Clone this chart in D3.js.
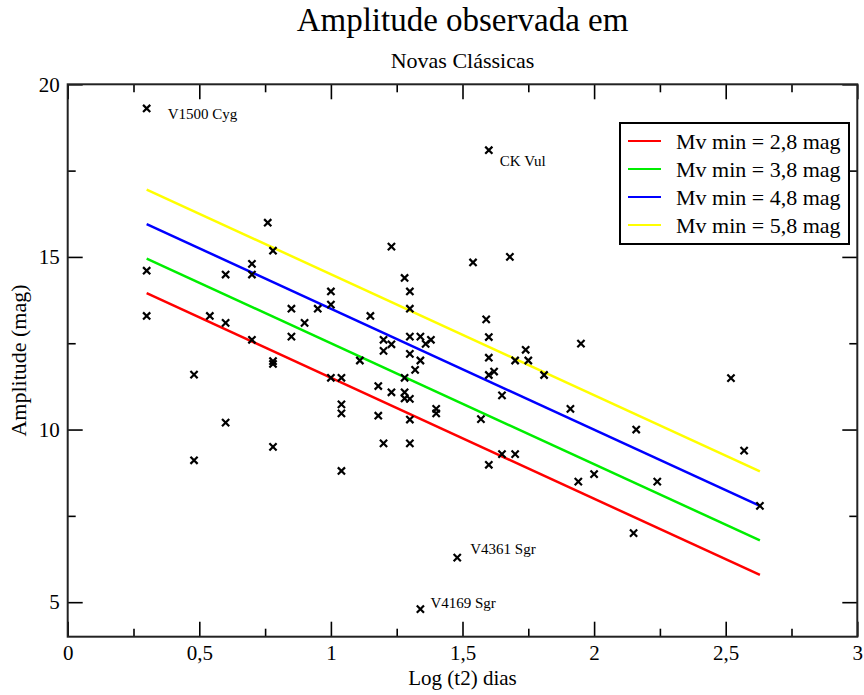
<!DOCTYPE html>
<html>
<head>
<meta charset="utf-8">
<script src="https://cdn.jsdelivr.net/npm/d3@7"></script>
<style>
  body { margin: 0; background: #fff; }
</style>
</head>
<body>
<script>
// log(t2) and amplitude of each nova
const logT2 = [0.30, 0.30, 0.30, 0.48, 0.48, 0.54, 0.60, 0.60, 0.60, 0.70,
  0.70, 0.70, 0.76, 0.78, 0.78, 0.78, 0.78, 0.85, 0.85, 0.90,
  0.95, 1.00, 1.00, 1.00, 1.04, 1.04, 1.04, 1.04, 1.11, 1.15,
  1.18, 1.18, 1.20, 1.20, 1.20, 1.23, 1.23, 1.23, 1.28, 1.28,
  1.28, 1.28, 1.30, 1.30, 1.30, 1.30, 1.30, 1.30, 1.30, 1.32,
  1.34, 1.34, 1.36, 1.38, 1.40, 1.40, 1.34, 1.48, 1.54, 1.57,
  1.59, 1.60, 1.60, 1.60, 1.60, 1.60, 1.62, 1.65, 1.65, 1.68,
  1.70, 1.70, 1.74, 1.75, 1.81, 1.91, 1.95, 1.94, 2.00, 2.15,
  2.16, 2.24, 2.52, 2.57, 2.63];
const amplitude = [19.30, 14.60, 13.29, 11.59, 9.11, 13.29, 14.49, 13.09, 10.20, 14.80,
  14.49, 12.60, 15.99, 15.18, 11.98, 11.90, 9.50, 13.50, 12.69, 13.09,
  13.50, 14.00, 13.62, 11.50, 11.50, 10.73, 10.47, 8.80, 12.00, 13.29,
  11.26, 10.40, 12.60, 12.28, 9.60, 15.30, 12.47, 11.08, 14.39, 11.50,
  11.08, 10.90, 14.00, 13.50, 12.69, 12.19, 10.89, 10.29, 9.60, 11.73,
  12.69, 12.00, 12.48, 12.60, 10.60, 10.47, 4.80, 6.29, 14.84, 10.30,
  13.19, 18.09, 12.68, 12.08, 11.58, 8.98, 11.68, 10.99, 9.29, 15.00,
  12.00, 9.29, 12.31, 12.00, 11.58, 10.60, 12.49, 8.49, 8.71, 7.00,
  10.00, 8.49, 11.49, 9.39, 7.79];

// named novas
const labelNames = ["V1500 Cyg", "CK Vul", "V4361 Sgr", "V4169 Sgr"];
const labelX = [0.30, 1.60, 1.48, 1.34];
const labelY = [19.30, 18.09, 6.29, 4.80];

// reference lines (Mv min)
const lineX = [0.30, 2.63];
const lineNames = ["Mv min = 2,8 mag", "Mv min = 3,8 mag", "Mv min = 4,8 mag", "Mv min = 5,8 mag"];
const lineA28 = [13.95, 5.79];
const lineA38 = [14.95, 6.79];
const lineA48 = [15.95, 7.79];
const lineA58 = [16.95, 8.79];
const lineColors = ["#ff0000", "#00ee00", "#0000ff", "#ffff00"];

const xTicks = [0, 0.5, 1, 1.5, 2, 2.5, 3];
const xMinor = [0.25, 0.75, 1.25, 1.75, 2.25, 2.75];
const yTicks = [5, 10, 15, 20];
const yMinor = [7.5, 12.5, 17.5];

const width = 864, height = 695;
const margin = {top: 84.3, right: 6.7, bottom: 58.3, left: 67.7};
const serif = "'Liberation Serif', 'Times New Roman', Times, 'DejaVu Serif', serif";

const svg = d3.select("body").append("svg")
    .attr("width", width)
    .attr("height", height)
    .style("font-family", serif);

const x = d3.scaleLinear()
    .domain([0, 3])
    .range([margin.left, width - margin.right]);

const y = d3.scaleLinear()
    .domain([4, 20])
    .range([height - margin.bottom, margin.top]);

const fmt = d => String(d).replace(".", ",");

// titles
svg.append("text")
    .attr("x", (x(0) + x(3)) / 2)
    .attr("y", 31)
    .attr("text-anchor", "middle")
    .style("font-family", serif)
    .style("font-size", "33px")
    .text("Amplitude observada em");

svg.append("text")
    .attr("x", (x(0) + x(3)) / 2)
    .attr("y", 68)
    .attr("text-anchor", "middle")
    .style("font-family", serif)
    .style("font-size", "22px")
    .text("Novas Clássicas");

// axes, ticks pointing inwards on all four sides
const axisStyle = g => {
  g.attr("font-family", null).attr("font-size", null);
  g.select(".domain").remove();
  g.selectAll("line").attr("stroke", "#000").attr("stroke-width", 1.6);
  g.selectAll("text")
      .style("font-family", serif)
      .style("font-size", "21px")
      .attr("fill", "#000");
};

svg.append("g")
    .attr("transform", `translate(0,${y(4)})`)
    .call(d3.axisBottom(x).tickValues(xTicks).tickSize(-15).tickPadding(8).tickFormat(fmt))
    .call(axisStyle);
svg.append("g")
    .attr("transform", `translate(0,${y(4)})`)
    .call(d3.axisBottom(x).tickValues(xMinor).tickSize(-8).tickFormat(""))
    .call(axisStyle);
svg.append("g")
    .attr("transform", `translate(0,${y(20)})`)
    .call(d3.axisTop(x).tickValues(xTicks).tickSize(-15).tickFormat(""))
    .call(axisStyle);
svg.append("g")
    .attr("transform", `translate(0,${y(20)})`)
    .call(d3.axisTop(x).tickValues(xMinor).tickSize(-8).tickFormat(""))
    .call(axisStyle);

svg.append("g")
    .attr("transform", `translate(${x(0)},0)`)
    .call(d3.axisLeft(y).tickValues(yTicks).tickSize(-15).tickPadding(8))
    .call(axisStyle);
svg.append("g")
    .attr("transform", `translate(${x(0)},0)`)
    .call(d3.axisLeft(y).tickValues(yMinor).tickSize(-8).tickFormat(""))
    .call(axisStyle);
svg.append("g")
    .attr("transform", `translate(${x(3)},0)`)
    .call(d3.axisRight(y).tickValues(yTicks).tickSize(-15).tickFormat(""))
    .call(axisStyle);
svg.append("g")
    .attr("transform", `translate(${x(3)},0)`)
    .call(d3.axisRight(y).tickValues(yMinor).tickSize(-8).tickFormat(""))
    .call(axisStyle);

// frame
svg.append("rect")
    .attr("x", x(0))
    .attr("y", y(20))
    .attr("width", x(3) - x(0))
    .attr("height", y(4) - y(20))
    .attr("fill", "none")
    .attr("stroke", "#222")
    .attr("stroke-width", 2);

// axis labels
svg.append("text")
    .attr("x", (x(0) + x(3)) / 2)
    .attr("y", 685)
    .attr("text-anchor", "middle")
    .style("font-family", serif)
    .style("font-size", "21px")
    .text("Log (t2) dias");

svg.append("text")
    .attr("transform", `translate(26,${(y(4) + y(20)) / 2}) rotate(-90)`)
    .attr("text-anchor", "middle")
    .style("font-family", serif)
    .style("font-size", "22px")
    .text("Amplitude (mag)");

// reference lines
const series = [lineA28, lineA38, lineA48, lineA58];
const line = d3.line()
    .x((d, i) => x(lineX[i]))
    .y(d => y(d));

svg.append("g")
  .selectAll("path")
  .data(series)
  .join("path")
    .attr("d", d => line(d))
    .attr("fill", "none")
    .attr("stroke", (d, i) => lineColors[i])
    .attr("stroke-width", 2.5);

// data points
const pts = logT2.map((v, i) => ({lx: v, amp: amplitude[i]}));
svg.append("g")
  .selectAll("path")
  .data(pts)
  .join("path")
    .attr("transform", d => `translate(${x(d.lx)},${y(d.amp)})`)
    .attr("d", "M-3.6,-3.6L3.6,3.6M-3.6,3.6L3.6,-3.6")
    .attr("stroke", "#000")
    .attr("stroke-width", 2.2);

// star names
const labelOffset = [[21, 11], [11, 16], [13, -4], [10, -1]];
svg.append("g")
  .selectAll("text")
  .data(labelNames)
  .join("text")
    .attr("x", (d, i) => x(labelX[i]) + labelOffset[i][0])
    .attr("y", (d, i) => y(labelY[i]) + labelOffset[i][1])
    .style("font-family", serif)
    .style("font-size", "15px")
    .text(d => d);

// legend
const legend = svg.append("g")
    .attr("transform", "translate(620,123)");

legend.append("rect")
    .attr("width", 229)
    .attr("height", 121)
    .attr("fill", "#fff")
    .attr("stroke", "#000")
    .attr("stroke-width", 2);

const row = legend.selectAll("g")
  .data(lineNames)
  .join("g")
    .attr("transform", (d, i) => `translate(0,${18 + i * 28})`);

row.append("line")
    .attr("x1", 8)
    .attr("x2", 41)
    .attr("stroke", (d, i) => lineColors[i])
    .attr("stroke-width", 2);

row.append("text")
    .attr("x", 56)
    .attr("dy", "0.35em")
    .style("font-family", serif)
    .style("font-size", "22px")
    .text(d => d);
</script>
</body>
</html>
